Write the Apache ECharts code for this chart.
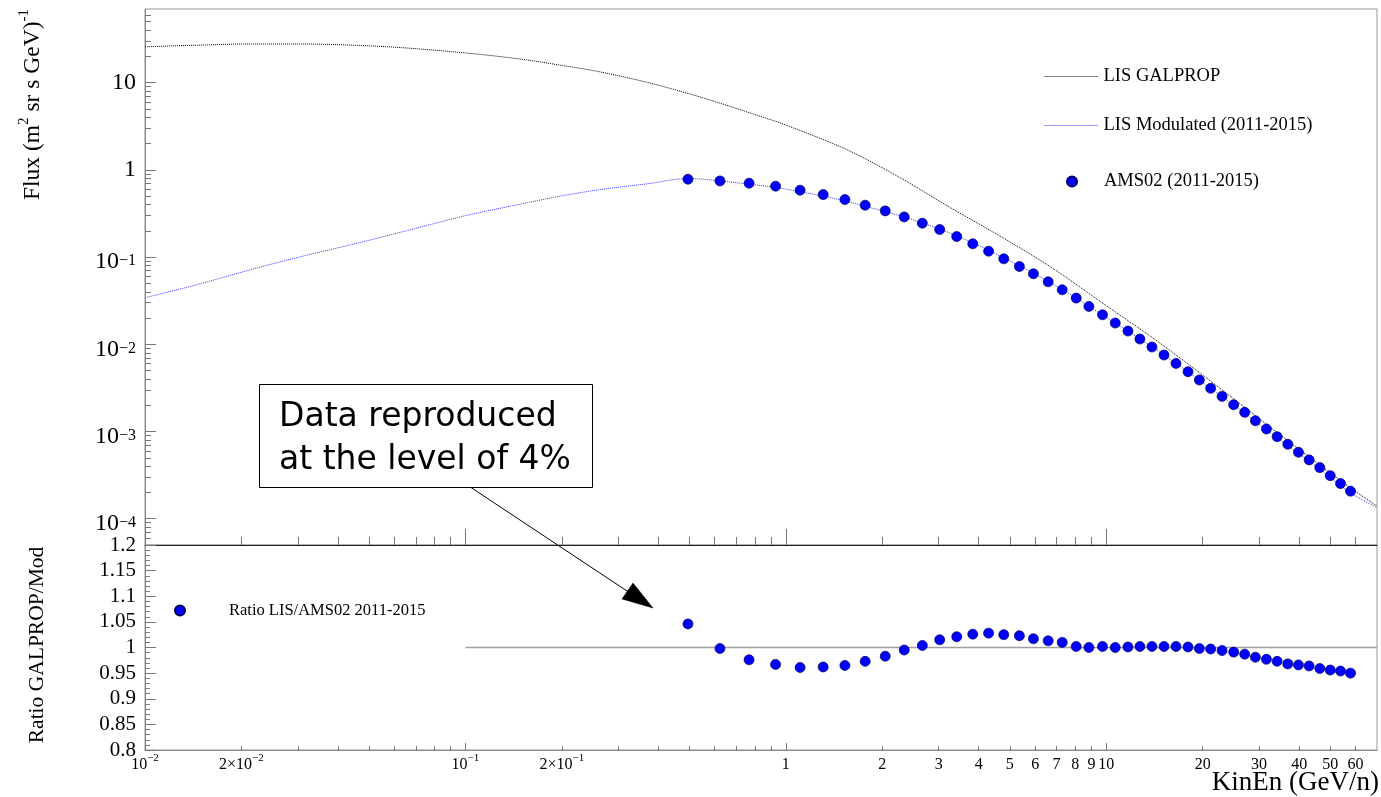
<!DOCTYPE html>
<html><head><meta charset="utf-8">
<script src="https://cdn.jsdelivr.net/npm/echarts@6/dist/echarts.min.js"></script>
<style>html,body{margin:0;padding:0;background:#fff}#c{width:1381px;height:797px}</style>
</head><body><div id="c"></div>
<script>
// ---- data ----
const energy = [0.495, 0.623, 0.768, 0.929, 1.108, 1.308, 1.529, 1.769, 2.043, 2.342, 2.667, 3.022, 3.415, 3.832, 4.294, 4.789, 5.358, 5.927, 6.589, 7.289, 8.059, 8.829, 9.737, 10.67, 11.69, 12.74, 13.89, 15.15, 16.51, 18.00, 19.53, 21.18, 22.99, 24.99, 27.05, 29.21, 31.62, 34.15, 36.87, 39.81, 42.98, 46.41, 50.02, 53.86, 57.87];
const amsFlux = [0.782, 0.748, 0.704, 0.651, 0.585, 0.521, 0.457, 0.394, 0.339, 0.289, 0.245, 0.207, 0.172, 0.142, 0.117, 0.0956, 0.0780, 0.0644, 0.0521, 0.0422, 0.0339, 0.0272, 0.0218, 0.01754, 0.01420, 0.01150, 0.00931, 0.00754, 0.00604, 0.00485, 0.00390, 0.00313, 0.00253, 0.00203, 0.00166, 0.00133, 0.00107, 0.000874, 0.000714, 0.000578, 0.000473, 0.000386, 0.000312, 0.000253, 0.000207];
const ratio = [1.046, 0.998, 0.976, 0.967, 0.961, 0.962, 0.965, 0.973, 0.983, 0.995, 1.004, 1.015, 1.021, 1.026, 1.028, 1.025, 1.023, 1.017, 1.013, 1.010, 1.002, 1.000, 1.002, 1.000, 1.001, 1.002, 1.002, 1.002, 1.002, 1.001, 0.998, 0.997, 0.994, 0.991, 0.987, 0.981, 0.977, 0.973, 0.968, 0.966, 0.964, 0.959, 0.956, 0.954, 0.950];
const lisE = [0.01, 0.01486, 0.02128, 0.03049, 0.04367, 0.06255, 0.1005, 0.1482, 0.1975, 0.2635, 0.377, 0.54, 0.774, 1.0, 1.56, 2.28, 3.27, 4.69, 6.70, 9.60, 13.73, 19.66, 28.15, 40.3, 57.9, 70];
const lisFlux = [25.8, 27.0, 27.8, 27.8, 27.0, 25.3, 21.9, 18.7, 15.9, 13.3, 9.9, 6.86, 4.50, 3.27, 1.69, 0.81, 0.367, 0.172, 0.0775, 0.0308, 0.0124, 0.00467, 0.00169, 0.000612, 0.000225, 0.000140];
const modE = [0.01, 0.01486, 0.02128, 0.03049, 0.04367, 0.06255, 0.1005, 0.1482, 0.1975, 0.2635, 0.377, 0.495, 0.623, 0.768, 0.929, 1.108, 1.308, 1.529, 1.769, 2.043, 2.342, 2.667, 3.022, 3.415, 3.832, 4.294, 4.789, 5.358, 5.927, 6.589, 7.289, 8.059, 8.829, 9.737, 10.67, 11.69, 12.74, 13.89, 15.15, 16.51, 18.0, 19.53, 21.18, 22.99, 24.99, 27.05, 29.21, 31.62, 34.15, 36.87, 39.81, 42.98, 46.41, 50.02, 53.86, 57.87, 70];
const modFlux = [0.0342, 0.0494, 0.0715, 0.1008, 0.138, 0.192, 0.300, 0.405, 0.50, 0.595, 0.70, 0.80, 0.746, 0.687, 0.630, 0.562, 0.501, 0.441, 0.383, 0.333, 0.288, 0.246, 0.210, 0.176, 0.146, 0.120, 0.0980, 0.0798, 0.0655, 0.0528, 0.0426, 0.0340, 0.0272, 0.0218, 0.01754, 0.01421, 0.01153, 0.00932, 0.00755, 0.00605, 0.00485, 0.00389, 0.00312, 0.00251, 0.00201, 0.00164, 0.00130, 0.00105, 0.000851, 0.000691, 0.000558, 0.000456, 0.000370, 0.000298, 0.000241, 0.000197, 0.000134];
const refE = [0.1, 70];
const refRatio = [1, 1];

// axis ranges and tick labels
const xMin = 0.01, xMax = 70;
const yMin = 5e-5, yMax = 70;
const xMajorTicks = [0.01, 0.1, 1, 10];
const xLabelValues = [0.01, 0.02, 0.1, 0.2, 1, 2, 3, 4, 5, 6, 7, 8, 9, 10, 20, 30, 40, 50, 60];
const xLabelTexts = ['10^\u22122', '2\u00d710^\u22122', '10^\u22121', '2\u00d710^\u22121', '1', '2', '3', '4', '5', '6', '7', '8', '9', '10', '20', '30', '40', '50', '60'];
const yMajorTicks = [1e-4, 1e-3, 1e-2, 0.1, 1, 10];
const yLabelTexts = ['10^\u22124', '10^\u22123', '10^\u22122', '10^\u22121', '1', '10'];

function minorTicks(lo, hi) {
  const out = [];
  for (let e = -6; e <= 3; e++) {
    for (let k = 2; k <= 9; k++) {
      const v = k * Math.pow(10, e);
      if (v >= lo * 0.999 && v < hi * 0.999) out.push(v);
    }
  }
  return out;
}
const xMinorTicks = minorTicks(xMin, xMax);
const yMinorTicks = minorTicks(yMin, yMax);
const lg = v => Math.log10(v);

function richText(t) {
  const i = t.indexOf('^');
  if (i < 0) return '{p|' + t + '}';
  return '{b|' + t.slice(0, i) + '}{s|' + t.slice(i + 1) + '}';
}
function lookup(values, texts) {
  return function (v) {
    for (let i = 0; i < values.length; i++) if (Math.abs(lg(values[i]) - v) < 1e-6) return richText(texts[i]);
    return '';
  };
}

const serif = 'Liberation Serif';
const axisGray = '#888';
const tickGray = '#777';
const lisColor = '#000';
const modColor = '#3a3aff';
const noSymbol = { color: 'rgba(0,0,0,0)', borderColor: 'rgba(0,0,0,0)', borderWidth: 0 };

function overlayX(grid, opt) {
  return Object.assign({
    type: 'value', gridIndex: grid, min: lg(xMin), max: lg(xMax), position: 'bottom',
    splitLine: { show: false },
    axisLine: { show: false, onZero: false },
    axisLabel: { show: false },
    axisTick: { show: false }
  }, opt);
}
function overlayY(grid, opt) {
  return Object.assign({
    type: 'value', gridIndex: grid, min: lg(yMin), max: lg(yMax), position: 'left',
    splitLine: { show: false },
    axisLine: { show: false, onZero: false },
    axisLabel: { show: false },
    axisTick: { show: false }
  }, opt);
}

const chart = echarts.init(document.getElementById('c'), null, { renderer: 'canvas' });
const option = {
  animation: false,
  backgroundColor: '#fff',
  grid: [
    { left: 145, top: 9, width: 1232, height: 536, show: true, borderColor: '#999', borderWidth: 1 },
    { left: 145, top: 545, width: 1232, height: 205, show: true, borderColor: '#999', borderWidth: 1 }
  ],
  xAxis: [
    { type: 'log', gridIndex: 0, min: xMin, max: xMax, show: false, axisLine: { onZero: false } },
    overlayX(0, {
      axisLine: { show: true, onZero: false, lineStyle: { color: '#222', width: 1 } },
      axisTick: { show: true, inside: true, length: 16, customValues: xMajorTicks.map(lg), lineStyle: { color: tickGray } }
    }),
    overlayX(0, {
      axisTick: { show: true, inside: true, length: 8, customValues: xMinorTicks.map(lg), lineStyle: { color: tickGray } }
    }),
    { type: 'log', gridIndex: 1, min: xMin, max: xMax, show: false, axisLine: { onZero: false } },
    overlayX(1, {
      axisLine: { show: true, onZero: false, lineStyle: { color: axisGray, width: 1 } },
      axisTick: { show: true, inside: true, length: 7, customValues: xMajorTicks.map(lg), lineStyle: { color: tickGray } },
      axisLabel: {
        show: true, margin: 3, customValues: xLabelValues.map(lg),
        formatter: lookup(xLabelValues, xLabelTexts),
        rich: {
          p: { fontFamily: serif, fontSize: 16, lineHeight: 18, padding: [5, 0, 0, 0], color: '#000' },
          b: { fontFamily: serif, fontSize: 16, lineHeight: 18, padding: [5, 0, 0, 0], color: '#000' },
          s: { fontFamily: serif, fontSize: 11, lineHeight: 11, verticalAlign: 'top', color: '#000' }
        }
      }
    }),
    overlayX(1, {
      axisTick: { show: true, inside: true, length: 4, customValues: xMinorTicks.map(lg), lineStyle: { color: tickGray } }
    })
  ],
  yAxis: [
    { type: 'log', gridIndex: 0, min: yMin, max: yMax, show: false, axisLine: { onZero: false } },
    overlayY(0, {
      axisLine: { show: true, onZero: false, lineStyle: { color: axisGray, width: 1 } },
      axisTick: { show: true, inside: true, length: 11, customValues: yMajorTicks.map(lg), lineStyle: { color: tickGray } },
      axisLabel: {
        show: true, margin: 9, customValues: yMajorTicks.map(lg),
        formatter: lookup(yMajorTicks, yLabelTexts),
        rich: {
          p: { fontFamily: serif, fontSize: 24, lineHeight: 24, color: '#000' },
          b: { fontFamily: serif, fontSize: 24, lineHeight: 24, padding: [10, 0, 0, 0], color: '#000' },
          s: { fontFamily: serif, fontSize: 16, lineHeight: 16, padding: [8, 0, 0, 0], verticalAlign: 'top', color: '#000' }
        }
      }
    }),
    overlayY(0, {
      axisTick: { show: true, inside: true, length: 6, customValues: yMinorTicks.map(lg), lineStyle: { color: tickGray } }
    }),
    {
      type: 'value', gridIndex: 1, min: 0.8, max: 1.2, interval: 0.05, position: 'left',
      splitLine: { show: false },
      axisLine: { show: true, onZero: false, lineStyle: { color: axisGray, width: 1 } },
      axisTick: { show: true, inside: true, length: 11, lineStyle: { color: tickGray } },
      minorTick: { show: true, splitNumber: 5, length: 5, lineStyle: { color: tickGray } },
      axisLabel: { show: true, margin: 9, fontFamily: serif, fontSize: 21, color: '#000', showMinLabel: true, showMaxLabel: true }
    }
  ],
  legend: [
    { data: [{ name: 'LIS GALPROP', itemStyle: noSymbol, lineStyle: { color: lisColor, width: 1, type: 'dotted' } }],
      left: 1044, top: 67, itemWidth: 54, itemHeight: 10, padding: 0, selectedMode: false,
      textStyle: { fontFamily: serif, fontSize: 18.5, color: '#000' } },
    { data: [{ name: 'LIS Modulated (2011-2015)', itemStyle: noSymbol, lineStyle: { color: modColor, width: 1, type: 'dotted' } }],
      left: 1044, top: 116, itemWidth: 54, itemHeight: 10, padding: 0, selectedMode: false,
      textStyle: { fontFamily: serif, fontSize: 18.5, color: '#000' } },
    { data: ['AMS02 (2011-2015)'], left: 1066, top: 172, itemWidth: 54, itemHeight: 10, padding: 0, selectedMode: false,
      textStyle: { fontFamily: serif, fontSize: 18.5, color: '#000' } },
    { data: ['Ratio LIS/AMS02 2011-2015'], left: 174, top: 602, itemWidth: 88, itemHeight: 10, padding: 0, selectedMode: false,
      textStyle: { fontFamily: serif, fontSize: 16.5, color: '#000' } }
  ],
  series: [
    { name: 'LIS GALPROP', type: 'line', xAxisIndex: 0, yAxisIndex: 0, symbol: 'none', smooth: 0.3,
      data: lisE.map((e, i) => [e, lisFlux[i]]),
      lineStyle: { color: lisColor, width: 1, type: [1, 1] }, itemStyle: { color: lisColor }, z: 3 },
    { name: 'LIS Modulated (2011-2015)', type: 'line', xAxisIndex: 0, yAxisIndex: 0, symbol: 'none', smooth: 0.3,
      data: modE.map((e, i) => [e, modFlux[i]]),
      lineStyle: { color: modColor, width: 1, type: [1, 1] }, itemStyle: { color: modColor }, z: 3 },
    { name: 'AMS02 (2011-2015)', type: 'scatter', xAxisIndex: 0, yAxisIndex: 0, symbol: 'circle', symbolSize: 10,
      data: energy.map((e, i) => [e, amsFlux[i]]),
      itemStyle: { color: '#0000ff', borderColor: '#00005a', borderWidth: 0.7, opacity: 1 }, z: 4 },
    { name: 'ref', type: 'line', xAxisIndex: 3, yAxisIndex: 3, symbol: 'none',
      data: refE.map((e, i) => [e, refRatio[i]]),
      lineStyle: { color: '#a0a0a0', width: 1.3 }, z: 2 },
    { name: 'Ratio LIS/AMS02 2011-2015', type: 'scatter', xAxisIndex: 3, yAxisIndex: 3, symbol: 'circle', symbolSize: 10,
      data: energy.map((e, i) => [e, ratio[i]]),
      itemStyle: { color: '#0000ff', borderColor: '#00005a', borderWidth: 0.7, opacity: 1 }, z: 4 }
  ],
  graphic: [
    { type: 'text', x: 29, y: 9, rotation: Math.PI / 2, z: 10,
      style: { text: '{n|Flux (m}{s|2}{n| sr s GeV)}{s|-1}', align: 'right', verticalAlign: 'middle',
        rich: { n: { fontFamily: serif, fontSize: 23.5, lineHeight: 24, fill: '#000', padding: [8, 0, 0, 0] },
                s: { fontFamily: serif, fontSize: 15, lineHeight: 15, fill: '#000', verticalAlign: 'top' } } } },
    { type: 'text', x: 37, y: 645, rotation: Math.PI / 2, z: 10,
      style: { text: 'Ratio GALPROP/Mod', align: 'center', verticalAlign: 'middle', fill: '#000',
        font: '21.5px "Liberation Serif"' } },
    { type: 'text', x: 1379, y: 783, z: 10,
      style: { text: 'KinEn (GeV/n)', align: 'right', verticalAlign: 'middle', fill: '#000',
        font: '27px "Liberation Serif"' } },
    { type: 'rect', z: 20, shape: { x: 259.5, y: 384.5, width: 333, height: 103 },
      style: { fill: '#fff', stroke: '#000', lineWidth: 1 } },
    { type: 'text', x: 279, y: 417, z: 21,
      style: { text: 'Data reproduced', align: 'left', verticalAlign: 'middle', fill: '#000',
        font: '33px "DejaVu Sans"' } },
    { type: 'text', x: 279, y: 460, z: 21,
      style: { text: 'at the level of 4%', align: 'left', verticalAlign: 'middle', fill: '#000',
        font: '33px "DejaVu Sans"' } },
    { type: 'line', z: 21, shape: { x1: 471, y1: 487.5, x2: 630, y2: 593 },
      style: { stroke: '#000', lineWidth: 1 } },
    { type: 'polygon', z: 21, shape: { points: [[653, 608], [622, 599], [633, 583]] },
      style: { fill: '#000', stroke: '#000', lineWidth: 0.5 } }
  ]
};
chart.setOption(option);
</script>
</body></html>
